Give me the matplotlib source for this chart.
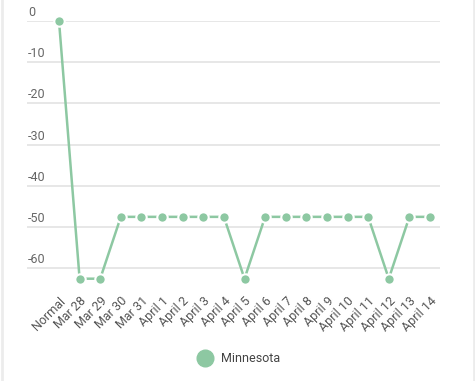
import matplotlib
matplotlib.use("Agg")
import matplotlib.pyplot as plt
from matplotlib.lines import Line2D
import numpy as np

plt.rcParams['font.family'] = ['Roboto', 'DejaVu Sans']

dates = ['Normal', 'Mar 28', 'Mar 29', 'Mar 30', 'Mar 31', 'April 1', 'April 2',
         'April 3', 'April 4', 'April 5', 'April 6', 'April 7', 'April 8',
         'April 9', 'April 10', 'April 11', 'April 12', 'April 13', 'April 14']
minnesota = [0, -62.5, -62.5, -47.5, -47.5, -47.5, -47.5, -47.5, -47.5, -62.5,
             -47.5, -47.5, -47.5, -47.5, -47.5, -47.5, -62.5, -47.5, -47.5]
yticks = [0, -10, -20, -30, -40, -50, -60]

green = '#8dc8a2'
W, H = 475, 381
fig = plt.figure(figsize=(W / 100, H / 100), dpi=100)
ax = fig.add_axes([27 / W, 1 - 289 / H, (440 - 27) / W, (289 - 21) / H])

x = np.arange(len(dates))
ax.plot(x, minnesota, color=green, lw=1.8, marker='o', ms=7.5,
        markeredgecolor='white', markeredgewidth=1.5, clip_on=False, zorder=3)

n = len(dates) - 1
step = (430 - 59) / n
ax.set_xlim(-(59 - 27) / step, n + (440 - 430) / step)
ax.set_ylim(-65, 0)

for v in yticks:
    ax.axhline(v, color='#e3e3e3', lw=1.2, zorder=1)
    ax.text(0.002, v + 0.5, str(v), transform=ax.get_yaxis_transform(),
            ha='left', va='bottom', fontsize=9, color='#666666')

ax.set_yticks([])
ax.set_xticks(x)
ax.set_xticklabels(dates, rotation=45, ha='right', rotation_mode='anchor',
                   fontsize=9, color='#555555')
ax.tick_params(axis='x', length=0, pad=4)
for s in ax.spines.values():
    s.set_visible(False)

handle = Line2D([], [], color=green, marker='o', ls='none', ms=12)
fig.legend([handle], ['Minnesota'], loc='center', bbox_to_anchor=(236 / W, 1 - 359 / H),
           frameon=False, fontsize=9, handletextpad=0.3, labelcolor='#444444')

# faint border on both sides
fig.add_artist(plt.Line2D([1.5 / W, 1.5 / W], [0, 1], color='#ececec', lw=2))
fig.add_artist(plt.Line2D([1 - 1.5 / W, 1 - 1.5 / W], [0, 1], color='#ececec', lw=2))

fig.savefig('out.png', dpi=100)
